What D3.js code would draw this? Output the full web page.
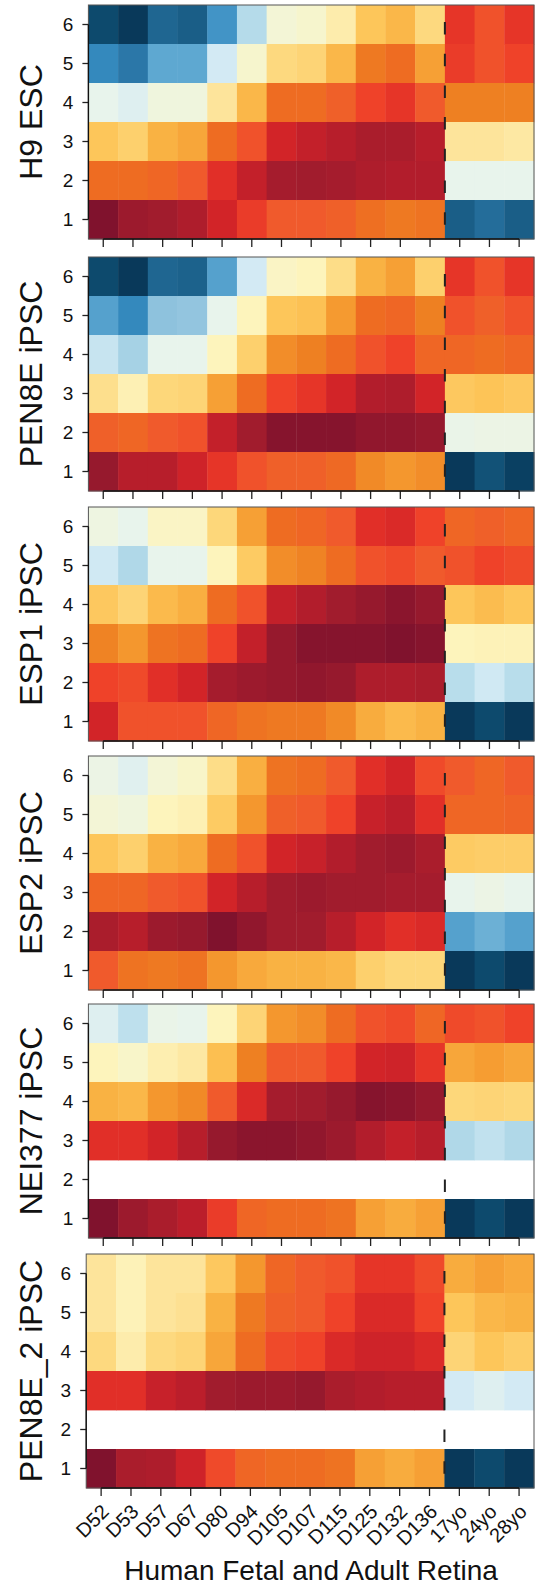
<!DOCTYPE html>
<html>
<head>
<meta charset="utf-8">
<script src="https://cdn.jsdelivr.net/npm/d3@7"></script>
<style>
  body { margin: 0; background: white; }
</style>
</head>
<body>
<div id="output"></div>
<script>
const width = 545;
const height = 1590;
const fontFamily = '"Liberation Sans", Arial, Helvetica, sans-serif';

// columns, rows and panel names
const samples = ['D52', 'D53', 'D57', 'D67', 'D80', 'D94', 'D105', 'D107', 'D115',
                 'D125', 'D132', 'D136', '17yo', '24yo', '28yo'];
const rowLabels = ['6', '5', '4', '3', '2', '1'];   // top to bottom
const panelNames = ['H9 ESC', 'PEN8E iPSC', 'ESP1 iPSC', 'ESP2 iPSC', 'NEI377 iPSC', 'PEN8E_2 iPSC'];
const xTitle = 'Human Fetal and Adult Retina';

// similarity score (0 = dark blue, 100 = dark red), rows in rowLabels order, null = no data
const h9esc = [
    [8, 3, 15, 13, 27, 39, 51, 52, 56, 65, 68, 61, 88, 84, 88],
    [24, 20, 30, 30, 44, 52, 61, 62, 68, 78, 80, 72, 87, 84, 86],
    [48, 46, 50, 50, 58, 68, 80, 80, 82, 86, 88, 83, 77, 77, 77],
    [65, 63, 69, 71, 80, 84, 91, 93, 94.5, 96, 96, 94.5, 58, 58, 57],
    [80, 80, 81, 83, 89, 93, 96.5, 97, 96.5, 95.5, 95, 95, 48, 48, 48],
    [100, 97.5, 97, 95.5, 91, 87, 83, 83, 82, 79.5, 78, 79, 13, 17, 13]
];
const pen8e = [
    [8, 3, 15, 14, 29, 44, 53, 54, 60, 69, 72, 63, 88, 84, 88],
    [29, 24, 35, 35.5, 48, 54, 65, 66, 73, 80, 81, 77, 84, 82, 84],
    [42, 37.5, 48, 48, 54, 63, 75, 77, 80, 84, 86, 81, 81, 80, 81],
    [59.5, 55, 61.5, 62, 72, 80, 86, 88, 91, 95, 95.5, 91, 64.5, 65.5, 64.5],
    [82, 81, 83, 84, 93, 97, 99.5, 99.5, 99.5, 98.5, 98.5, 98, 48.5, 49, 49],
    [98, 94.5, 94.5, 91.5, 88, 84, 82, 82, 80.5, 75.5, 73.5, 75, 3, 10, 5]
];
const esp1 = [
    [49.5, 48, 53, 53, 61.5, 72, 80, 81, 83, 89, 90, 86, 81, 82, 81],
    [43.5, 38.5, 48, 48, 54, 64, 75, 76.5, 80, 84, 85, 83, 84, 86, 85],
    [64.5, 62, 67.5, 69.5, 80, 84, 93, 95, 97, 98, 99, 98, 65, 67, 65],
    [76.5, 73.5, 79, 80, 86, 93, 98, 99.5, 99.5, 99.5, 100, 99.5, 54, 54.5, 54.5],
    [86, 85, 89, 91, 96.5, 97.5, 98, 98.5, 98, 95.5, 95.5, 96, 39.5, 43.5, 39.5],
    [91, 84, 84, 84, 81, 79, 78, 78, 75.5, 70, 67.5, 69, 3, 8, 3]
];
const esp2 = [
    [49, 46.5, 51, 52.5, 60, 69.5, 79, 80, 83, 89, 91, 85, 83, 81, 83],
    [51, 50, 54, 55, 64, 73.5, 82, 83, 86, 92.5, 94, 89, 81, 81, 81.5],
    [65, 63, 69, 70.5, 80, 84, 91, 92.5, 95, 97, 97.5, 96, 64, 63.5, 63.5],
    [81, 81, 83, 84, 91, 94.5, 97, 97.5, 97, 97, 96.5, 96.5, 48, 49, 48],
    [96, 94.5, 97.5, 98, 100, 98.5, 97, 97, 94.5, 91, 89, 90, 29, 31.5, 29],
    [83, 79, 78, 79, 73.5, 70.5, 69, 69, 68, 63, 61.5, 61.5, 3, 8, 3]
];
const nei377 = [
    [46, 40.5, 48.5, 48, 54, 62, 73.5, 75, 80, 84, 85, 81, 85, 84, 86],
    [54, 52.5, 55.5, 57, 66.5, 77, 83, 83, 86, 91, 91.5, 88, 71, 72.5, 71],
    [69, 68, 73.5, 75.5, 83, 90, 96.5, 97, 98, 99.5, 99, 98, 61.5, 62, 61.5],
    [89, 89, 91, 94.5, 98, 99, 99, 98.5, 97.5, 95, 93, 94.5, 38.5, 41, 38.5],
    [null, null, null, null, null, null, null, null, null, null, null, null, null, null, null],
    [100, 97.5, 96, 94, 87, 81, 80, 80, 79, 72, 70, 72, 3, 8, 3]
];
const pen8e2 = [
    [58, 54.5, 58, 58, 64.5, 73.5, 81, 83, 84, 88, 88, 85, 70, 72, 70.5],
    [58, 54.5, 58, 59, 69, 78, 82, 83, 86, 90, 90, 86, 65, 68, 69],
    [61, 56, 61, 62, 71, 80, 85, 86, 90, 91.5, 91.5, 90, 62, 65, 63.5],
    [89, 89, 92.5, 94, 97, 97.5, 97.5, 98, 96, 95, 94.5, 94.5, 44, 46, 44],
    [null, null, null, null, null, null, null, null, null, null, null, null, null, null, null],
    [100, 96, 95.5, 91.5, 85, 81, 80, 80, 79, 72, 70, 72, 3, 8, 3]
];
const panelData = [h9esc, pen8e, esp1, esp2, nei377, pen8e2];

// colour ramp, blue (low) -> cream -> dark red (high)
const colorStops = [0, 8, 15, 20, 24, 27, 30, 35, 39, 44, 48, 51, 54, 58, 61, 65,
                    69, 73, 77, 80, 83, 86, 89, 91, 94, 97, 100];
const colorRange = ['#062f4f', '#0d4a6d', '#1f6691', '#2b77a8', '#3489bd', '#4294c6', '#5ea8d1',
                    '#8ec2dd', '#b5dbea', '#d3eaf4', '#e8f4ec', '#f3f5d6', '#fdf4bc', '#fde49b',
                    '#fdd97f', '#fdc65a', '#f9b243', '#f59a30', '#ee8022', '#ee6c22', '#f05a2c',
                    '#ef4229', '#e12f28', '#d22428', '#bb1e2b', '#a11c2d', '#80122d'];
const color = d3.scaleLinear().domain(colorStops).range(colorRange).clamp(true);

// layout
const plotLefts = [88.4, 88.4, 88.4, 88.4, 88.4, 86.2];
const plotRight = 534;
const panelTops = [5, 257, 507, 756, 1004, 1254];
const panelHeight = 234;

let svg = d3.select('#output').append('svg')
    .attr('width', width)
    .attr('height', height)
    .attr('font-family', fontFamily);
svg.append('rect')
    .attr('width', '100%')
    .attr('height', '100%')
    .attr('fill', 'white');

function drawPanel(matrix, name, left, top, isLast) {
    const x = d3.scaleBand().domain(samples).range([left, plotRight]);
    const y = d3.scaleBand().domain(rowLabels).range([top, top + panelHeight]);
    const g = svg.append('g');

    const cells = rowLabels.flatMap((r, ri) =>
        samples.map((s, si) => ({row: r, sample: s, value: matrix[ri][si]})))
        .filter(d => d.value !== null);

    g.append('g').selectAll('rect')
        .data(cells)
        .join('rect')
        .attr('x', d => x(d.sample))
        .attr('y', d => y(d.row))
        .attr('width', x.bandwidth() + 0.4)
        .attr('height', y.bandwidth() + 0.4)
        .attr('fill', d => color(d.value));

    // dashed divider between fetal and adult samples
    g.append('line')
        .attr('x1', x('17yo')).attr('x2', x('17yo'))
        .attr('y1', top).attr('y2', top + panelHeight)
        .attr('stroke', '#222')
        .attr('stroke-width', 2)
        .attr('stroke-dasharray', '12.5 19.2')
        .attr('stroke-dashoffset', 14.7);

    // box
    g.append('rect')
        .attr('x', left).attr('y', top)
        .attr('width', plotRight - left).attr('height', panelHeight)
        .attr('fill', 'none')
        .attr('stroke', '#555')
        .attr('stroke-width', 1);

    // y axis
    const yAxis = g.append('g')
        .attr('transform', 'translate(' + left + ',0)')
        .call(d3.axisLeft(y).tickSize(6).tickPadding(9).tickSizeOuter(0));
    yAxis.select('.domain').remove();
    yAxis.selectAll('line').attr('stroke', '#222').attr('stroke-width', 1.3);
    yAxis.selectAll('text')
        .attr('font-family', fontFamily)
        .attr('font-size', 19)
        .attr('fill', '#111');
    g.append('line')
        .attr('x1', left).attr('x2', left)
        .attr('y1', y('6') + y.bandwidth() / 2)
        .attr('y2', y('1') + y.bandwidth() / 2)
        .attr('stroke', '#111')
        .attr('stroke-width', 1.4);

    // x axis
    const bottom = top + panelHeight;
    const xAxis = g.append('g')
        .attr('transform', 'translate(0,' + bottom + ')')
        .call(d3.axisBottom(x).tickSize(8).tickSizeOuter(0));
    xAxis.select('.domain').remove();
    xAxis.selectAll('line').attr('stroke', '#222').attr('stroke-width', 1.3);
    if (isLast) {
        xAxis.selectAll('text')
            .attr('y', 0)
            .attr('dy', 0)
            .attr('text-anchor', 'end')
            .attr('transform', 'translate(9,25) rotate(-45)')
            .attr('font-family', fontFamily)
            .attr('font-size', 20)
            .attr('fill', '#111');
    } else {
        xAxis.selectAll('text').remove();
    }
    g.append('line')
        .attr('x1', x(samples[0]) + x.bandwidth() / 2)
        .attr('x2', x(samples[samples.length - 1]) + x.bandwidth() / 2)
        .attr('y1', bottom).attr('y2', bottom)
        .attr('stroke', '#111')
        .attr('stroke-width', 1.4);

    // panel title
    g.append('text')
        .attr('transform', 'translate(42,' + (top + panelHeight / 2) + ') rotate(-90)')
        .attr('text-anchor', 'middle')
        .attr('font-size', 32)
        .attr('fill', '#111')
        .text(name);
}

panelData.forEach((m, i) =>
    drawPanel(m, panelNames[i], plotLefts[i], panelTops[i], i === panelData.length - 1));

svg.append('text')
    .attr('x', 311)
    .attr('y', 1580)
    .attr('text-anchor', 'middle')
    .attr('font-size', 28)
    .attr('fill', '#111')
    .text(xTitle);
</script>
</body>
</html>
